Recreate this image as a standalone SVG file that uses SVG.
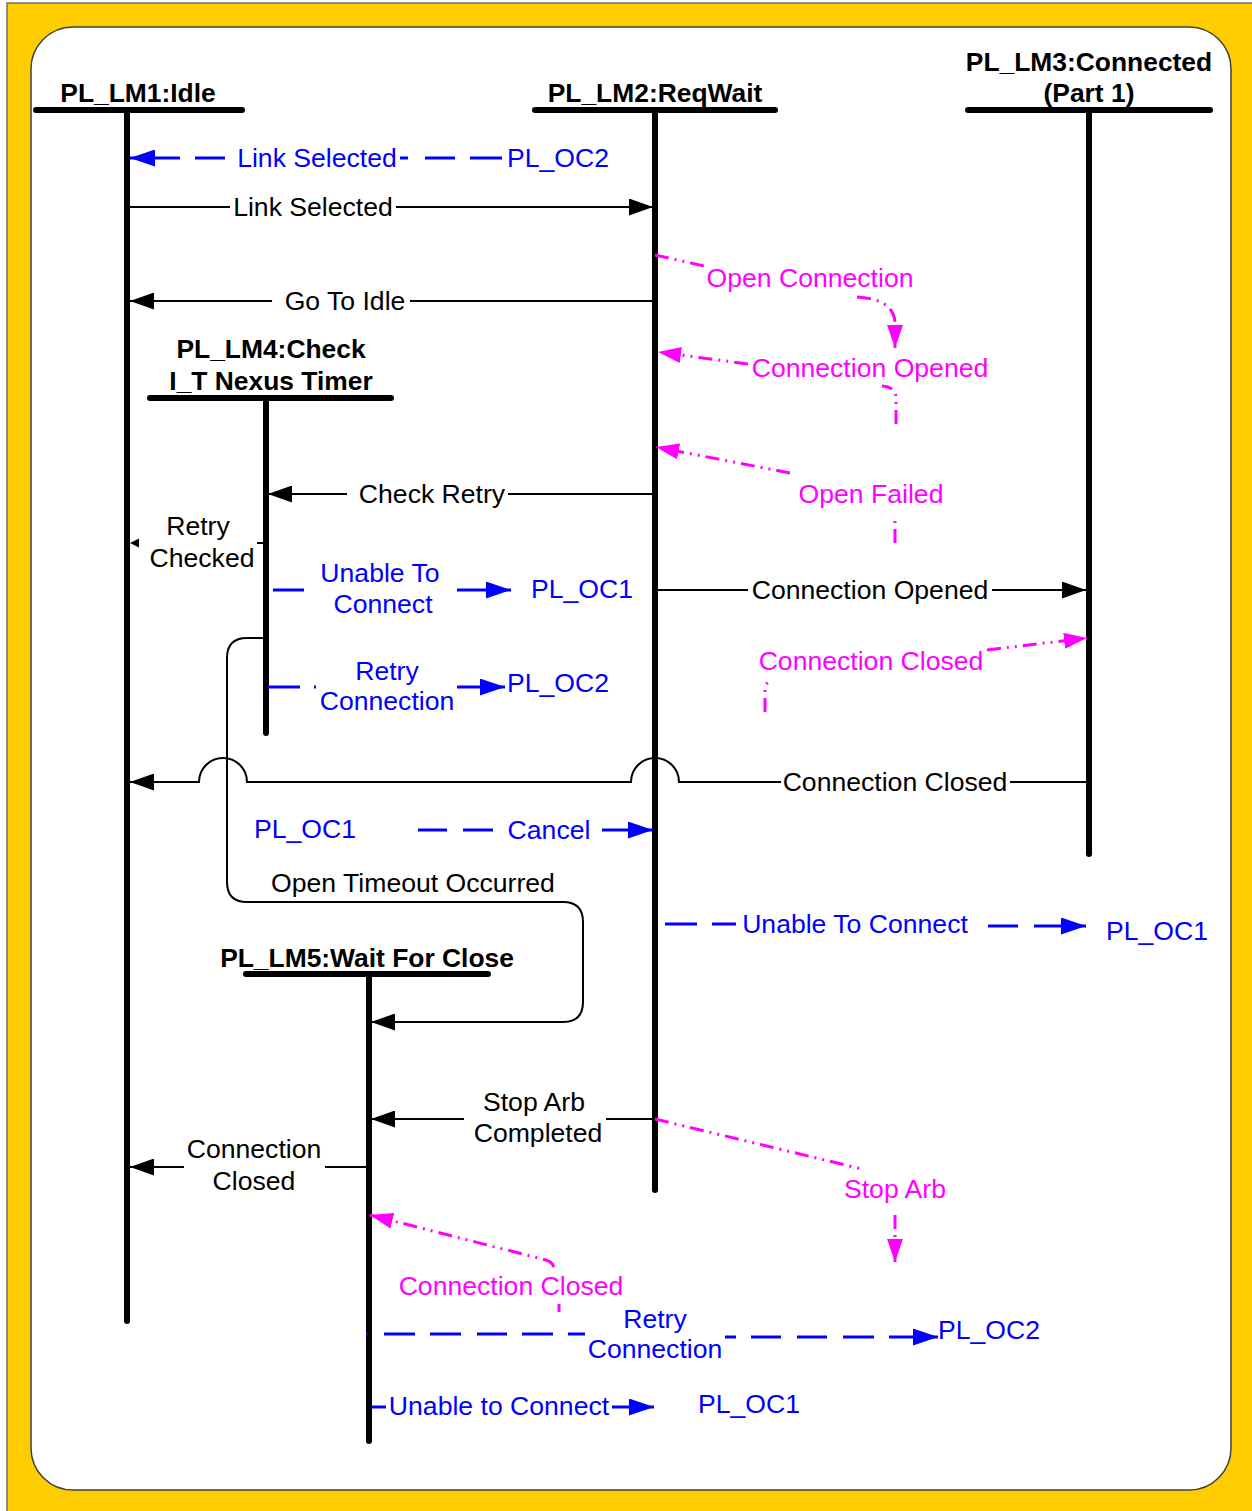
<svg xmlns="http://www.w3.org/2000/svg" width="1252" height="1511" viewBox="0 0 1252 1511">
<style>
text{font-family:"Liberation Sans",Arial,sans-serif;font-size:26.6px;text-anchor:middle}
.h{font-weight:bold;fill:#000;font-size:26.4px}
.k{fill:#000}
.b{fill:#0000FF}
.m{fill:#FF00FF}
.life{stroke:#000;stroke-width:6;stroke-linecap:round;fill:none}
.lk{stroke:#000;stroke-width:2;fill:none}
.lb{stroke:#0000FF;stroke-width:3;fill:none}
.lm{stroke:#FF00FF;stroke-width:3;fill:none;stroke-dasharray:14 6 2 6 2 6}
</style>
<defs>
<marker id="ak" viewBox="0 0 24 17" refX="24" refY="8.5" markerWidth="24" markerHeight="17" markerUnits="userSpaceOnUse" orient="auto"><path d="M0,0 L24,8.5 L0,17 z" fill="#000"/></marker>
<marker id="abl" viewBox="0 0 25 17" refX="25" refY="8.5" markerWidth="25" markerHeight="17" markerUnits="userSpaceOnUse" orient="auto"><path d="M0,0 L25,8.5 L0,17 z" fill="#0000FF"/></marker>
<marker id="am" viewBox="0 0 23 16" refX="23" refY="8" markerWidth="23" markerHeight="16" markerUnits="userSpaceOnUse" orient="auto"><path d="M0,0 L23,8 L0,16 z" fill="#FF00FF"/></marker>
</defs>

<rect x="7" y="3" width="1250" height="1515" fill="#FFCC00" stroke="#707070" stroke-width="1.5"/>
<rect x="31" y="27" width="1200" height="1463" rx="42" ry="42" fill="#FFFFFF" stroke="#404040" stroke-width="1.5"/>

<g id="PL_LM1">
<text class="h" x="138" y="102">PL_LM1:Idle</text>
<line class="life" x1="36" y1="110" x2="242" y2="110"/>
<line class="life" x1="127" y1="111" x2="127" y2="1321"/>
</g>
<g id="PL_LM2">
<text class="h" x="655" y="102">PL_LM2:ReqWait</text>
<line class="life" x1="535" y1="110" x2="775" y2="110"/>
<line class="life" x1="655" y1="111" x2="655" y2="1190"/>
</g>
<g id="PL_LM3">
<text class="h" x="1089" y="71">PL_LM3:Connected</text>
<text class="h" x="1089" y="102">(Part 1)</text>
<line class="life" x1="968" y1="110" x2="1210" y2="110"/>
<line class="life" x1="1089" y1="111" x2="1089" y2="854"/>
</g>
<g id="PL_LM4">
<text class="h" x="271" y="358">PL_LM4:Check</text>
<text class="h" x="271" y="390">I_T Nexus Timer</text>
<line class="life" x1="150" y1="398" x2="391" y2="398"/>
<line class="life" x1="266" y1="399" x2="266" y2="733"/>
</g>
<g id="PL_LM5">
<text class="h" x="367" y="967">PL_LM5:Wait For Close</text>
<line class="life" x1="246" y1="974" x2="488" y2="974"/>
<line class="life" x1="369" y1="975" x2="369" y2="1441"/>
</g>

<g id="connectors">
<g id="c-link-selected-oc2">
<path class="lb" d="M502,158 H470 M455,158 H425 M408,158 H400 M225,158 H195 M180,158 H130" marker-end="url(#abl)"/>
<text class="b" x="317" y="167">Link Selected</text>
<text class="b" x="558" y="167">PL_OC2</text>
</g>
<g id="c-link-selected">
<path class="lk" d="M130,207 H230 M396,207 H653" marker-end="url(#ak)"/>
<text class="k" x="313" y="216">Link Selected</text>
</g>
<g id="c-go-to-idle">
<path class="lk" d="M653,301 H410 M272,301 H130" marker-end="url(#ak)"/>
<text class="k" x="345" y="310">Go To Idle</text>
</g>
<g id="c-open-connection">
<path class="lm" d="M655,255 L704,266"/>
<path class="lm" d="M857,297 Q893,299 895,322 L895,348" marker-end="url(#am)"/>
<text class="m" x="810" y="287">Open Connection</text>
</g>
<g id="c-connection-opened-m">
<path class="lm" d="M896,424 V398 Q896,387 882,386"/>
<path class="lm" d="M748,364 L658,352" marker-end="url(#am)"/>
<text class="m" x="870" y="377">Connection Opened</text>
</g>
<g id="c-open-failed">
<path class="lm" d="M895,543 V516"/>
<path class="lm" d="M790,473 L656,447" marker-end="url(#am)"/>
<text class="m" x="871" y="503">Open Failed</text>
</g>
<g id="c-check-retry">
<path class="lk" d="M653,494 H508 M347,494 H268" marker-end="url(#ak)"/>
<text class="k" x="432" y="503">Check Retry</text>
</g>
<g id="c-retry-checked">
<path class="lk" d="M266,543 H257"/>
<polygon points="130,543 139,538.5 139,547.5" fill="#000"/>
<text class="k" x="198" y="535">Retry</text>
<text class="k" x="202" y="567">Checked</text>
</g>
<g id="c-unable-to-connect-1">
<path class="lb" d="M273,590 H304 M457,590 H511" marker-end="url(#abl)"/>
<text class="b" x="380" y="582">Unable To</text>
<text class="b" x="383" y="613">Connect</text>
<text class="b" x="582" y="598">PL_OC1</text>
</g>
<g id="c-connection-opened">
<path class="lk" d="M657,590 H748 M992,590 H1086" marker-end="url(#ak)"/>
<text class="k" x="870" y="599">Connection Opened</text>
</g>
<g id="c-connection-closed-m1">
<path class="lm" d="M765,712 V690 Q765,682 772,681"/>
<path class="lm" d="M987,650 L1087,638" marker-end="url(#am)"/>
<text class="m" x="871" y="670">Connection Closed</text>
</g>
<g id="c-retry-connection-1">
<path class="lb" d="M268,687 H300 M314,687 H316 M457,687 H505" marker-end="url(#abl)"/>
<text class="b" x="387" y="680">Retry</text>
<text class="b" x="387" y="710">Connection</text>
<text class="b" x="558" y="692">PL_OC2</text>
</g>
<g id="c-connection-closed">
<path class="lk" d="M1087,782 H1010 M781,782 H679 A24,24 0 0 0 631,782 H247 A24,24 0 0 0 199,782 H130" marker-end="url(#ak)"/>
<text class="k" x="895" y="791">Connection Closed</text>
</g>
<g id="c-cancel">
<path class="lb" d="M418,830 H447 M463,830 H493 M602,830 H653" marker-end="url(#abl)"/>
<text class="b" x="305" y="838">PL_OC1</text>
<text class="b" x="549" y="839">Cancel</text>
</g>
<g id="c-open-timeout">
<path class="lk" d="M266,638 H247 Q227,638 227,658 V882 Q227,902 247,902 H563 Q583,902 583,922 V1002 Q583,1022 563,1022 H371" marker-end="url(#ak)"/>
<text class="k" x="413" y="892">Open Timeout Occurred</text>
</g>
<g id="c-unable-to-connect-2">
<path class="lb" d="M665,924 H697 M712,924 H736 M988,926 H1018 M1034,926 H1086" marker-end="url(#abl)"/>
<text class="b" x="855" y="933">Unable To Connect</text>
<text class="b" x="1157" y="940">PL_OC1</text>
</g>
<g id="c-stop-arb-completed">
<path class="lk" d="M655,1119 H606 M464,1119 H371" marker-end="url(#ak)"/>
<text class="k" x="534" y="1111">Stop Arb</text>
<text class="k" x="538" y="1142">Completed</text>
</g>
<g id="c-connection-closed-2">
<path class="lk" d="M367,1167 H325 M184,1167 H130" marker-end="url(#ak)"/>
<text class="k" x="254" y="1158">Connection</text>
<text class="k" x="254" y="1190">Closed</text>
</g>
<g id="c-stop-arb">
<path class="lm" d="M655,1119 L862,1169"/>
<path class="lm" d="M895,1215 V1262" marker-end="url(#am)"/>
<text class="m" x="895" y="1198">Stop Arb</text>
</g>
<g id="c-connection-closed-m2">
<path class="lm" d="M554,1267 Q551,1261 546,1260 L370,1215" marker-end="url(#am)"/>
<path class="lm" d="M559,1312 V1304"/>
<text class="m" x="511" y="1295">Connection Closed</text>
</g>
<g id="c-retry-connection-2">
<path class="lb" d="M366,1334 H368 M384,1334 H415 M430,1334 H461 M477,1334 H507 M522,1334 H553 M568,1334 H585 M725,1337 H736 M751,1337 H781 M797,1337 H827 M843,1337 H874 M889,1337 H938" marker-end="url(#abl)"/>
<text class="b" x="655" y="1328">Retry</text>
<text class="b" x="655" y="1358">Connection</text>
<text class="b" x="989" y="1339">PL_OC2</text>
</g>
<g id="c-unable-to-connect-3">
<path class="lb" d="M371,1407 H386 M612,1407 H654" marker-end="url(#abl)"/>
<text class="b" x="499" y="1415">Unable to Connect</text>
<text class="b" x="749" y="1413">PL_OC1</text>
</g>
</g>
</svg>
